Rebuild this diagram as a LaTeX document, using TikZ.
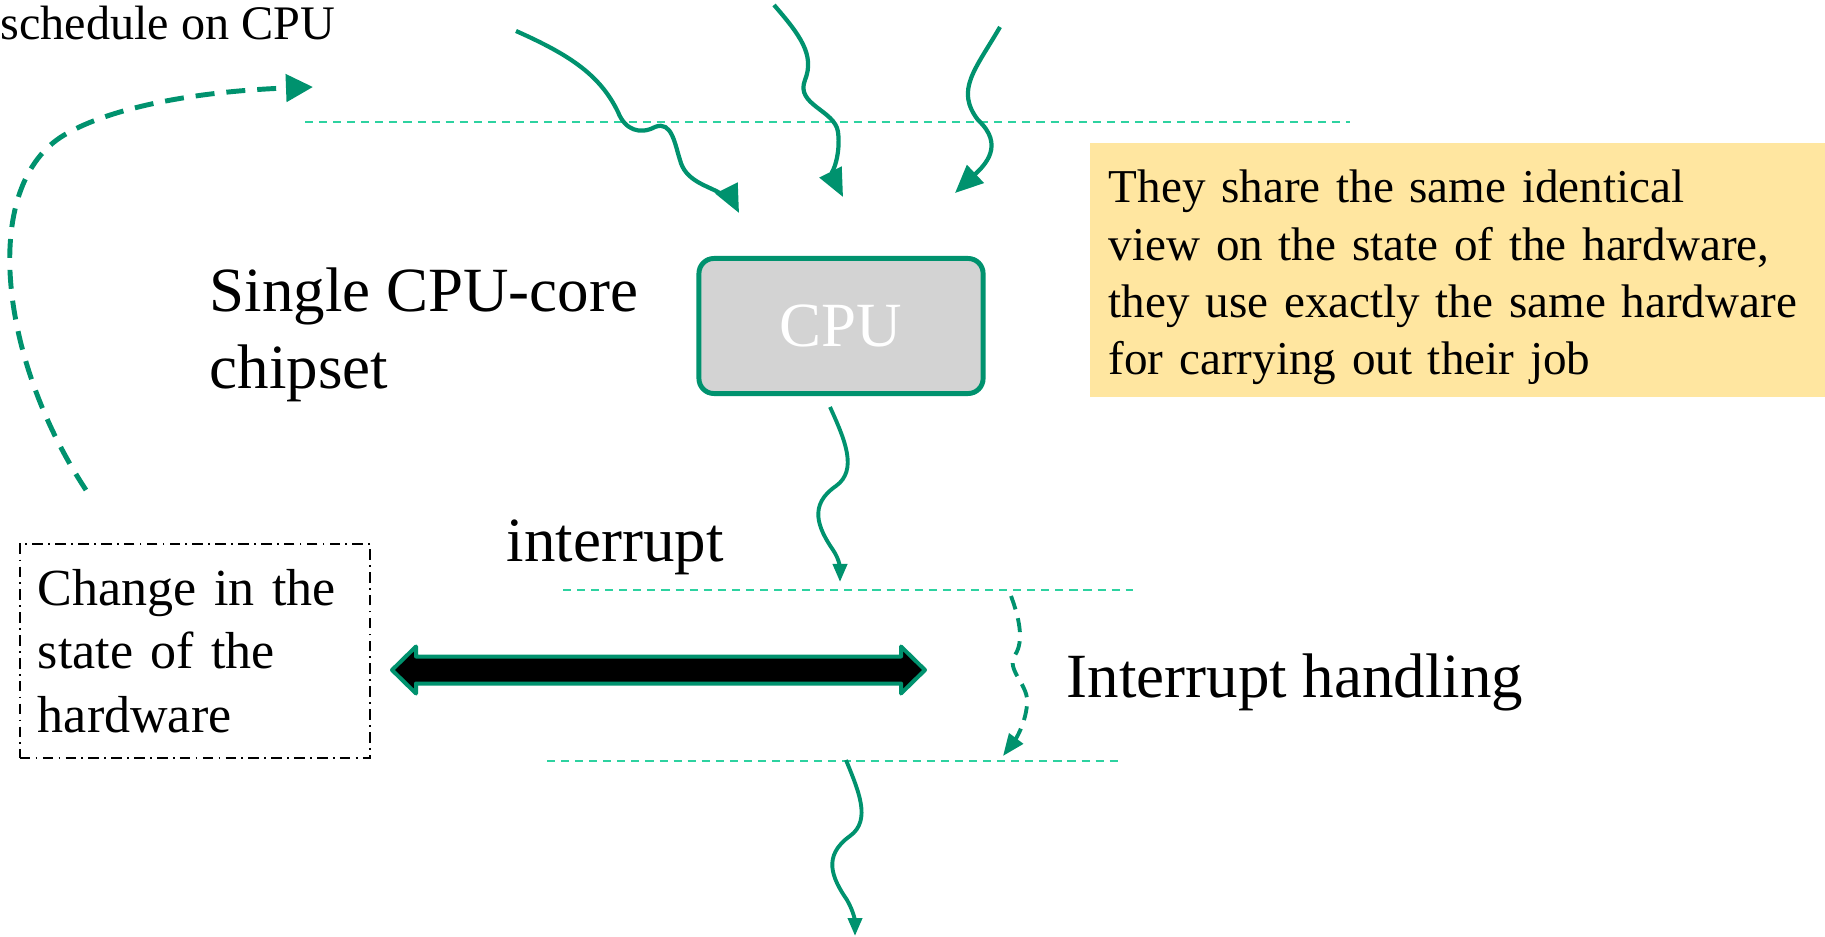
\documentclass[tikz,border=0pt]{standalone}
\usepackage{fontspec}
\setmainfont{Liberation Serif}
\usepackage{xcolor}
\usepackage{tikz}
\usetikzlibrary{arrows.meta}

\definecolor{cpugreen}{RGB}{0,146,110}
\definecolor{levelgreen}{RGB}{45,210,160}
\definecolor{noteyellow}{RGB}{255,230,160}
\definecolor{cpugray}{RGB}{211,211,211}

\begin{document}
\begin{tikzpicture}[
    x = .01cm,
    y = -.01cm,
    bigf/.style = {font=\fontsize{17.9}{21.9}\selectfont},
    smallf/.style = {font=\fontsize{13.7}{16.3}\selectfont},
    cpuf/.style = {
      rectangle,
      draw=cpugreen,
      rounded corners=1.5mm,
      fill=cpugray,
      text=white,
      line width=1.4pt,
      minimum width=2.84cm,
      minimum height=1.35cm,
      bigf
    },
    notef/.style = {
      rectangle,
      fill=noteyellow,
      minimum width=7.36cm,
      minimum height=2.53cm,
      text width=6.98cm,
      text height=13.8pt,
      inner xsep=.19cm,
      align=left,
      font=\fontsize{13.4}{16.3}\selectfont
    },
    hwf/.style = {
      rectangle,
      draw=black,
      line width=.4pt,
      dash pattern=on 3pt off 1.5pt on .5pt off 1.5pt,
      minimum width=3.5cm,
      minimum height=2.14cm,
      text width=3.14cm,
      inner xsep=.18cm,
      align=left,
      font=\fontsize{14.8}{18}\selectfont
    },
    labelf/.style = {inner sep=0, anchor=base west},
    levelf/.style = {
      draw=levelgreen,
      line width=.57pt,
      dash pattern=on 2.3pt off 1.7pt
    },
    wavyf/.style = {
      draw=cpugreen,
      line width=1.2pt,
      -{Triangle[length=.28cm, width=.24cm]}
    },
    wavysf/.style = {
      draw=cpugreen,
      line width=1.1pt,
      -{Triangle[length=.18cm, width=.14cm]}
    },
    handlef/.style = {
      draw=cpugreen,
      line width=1.1pt,
      dash pattern=on 4pt off 2.6pt,
      -{Triangle[length=.22cm, width=.17cm]}
    },
    schedf/.style = {
      draw=cpugreen,
      line width=1.4pt,
      dash pattern=on 5.4pt off 3.4pt,
      -{Triangle[length=.27cm, width=.27cm]}
    },
    fatf/.style = {
      draw=cpugreen,
      fill=black,
      line width=1.14pt,
      line join=round
    }
  ]
    \useasboundingbox (0,0) rectangle (1825,937);

    % texts and boxes
    \node[labelf, smallf] (sched) at (0,40) {schedule on CPU};
    \node[cpuf] (cpu) at (841,326) {CPU};
    \node[notef, anchor=north west] (note) at (1089,142)
      {They share the same identical\\
       view on the state of the hardware,\\
       they use exactly the same hardware\\
       for carrying out their job};
    \node[bigf, inner sep=0, anchor=north west, align=left] (chip) at (209,267)
      {Single CPU-core\\chipset};
    \node[labelf, bigf] (intr) at (506,561) {interrupt};
    \node[labelf, bigf] (handl) at (1066,697) {Interrupt handling};
    \node[hwf] (hw) at (195,651) {Change in the\\state of the\\hardware};

    % level lines
    \coordinate (l1a) at (305,122);
    \coordinate (l1b) at (1350,122);
    \coordinate (l2a) at (563,590);
    \coordinate (l2b) at (1133,590);
    \coordinate (l3a) at (547,761);
    \coordinate (l3b) at (1119,761);
    \draw[levelf] (l1a) -- (l1b);
    \draw[levelf] (l2a) -- (l2b);
    \draw[levelf] (l3a) -- (l3b);

    % end points of the flows
    \coordinate (sa) at (86,490);
    \coordinate (sb) at (313,87);
    \coordinate (t1s) at (516,31);
    \coordinate (t1e) at (739,213);
    \coordinate (t2s) at (774,5);
    \coordinate (t2e) at (843,197);
    \coordinate (t3s) at (1000,27);
    \coordinate (t3e) at (955,193);
    \coordinate (ds) at (830,407);
    \coordinate (de) at (840,582);
    \coordinate (hs) at (1011,596);
    \coordinate (he) at (1003,756);
    \coordinate (bs) at (846,760);
    \coordinate (be) at (855,936);

    \draw[schedf] (sa) .. controls (0,360) and (-20,190) .. (61,137)
      .. controls (100,112) and (180,92) .. (sb);

    \draw[wavyf] (t1s) .. controls (570,55) and (600,75) .. (618,112)
      .. controls (625,130) and (640,135) .. (655,127)
      .. controls (672,120) and (675,145) .. (680,160)
      .. controls (685,180) and (705,185) .. (718,192)
      .. controls (728,197) and (735,205) .. (t1e);
    \draw[wavyf] (t2s) .. controls (800,35) and (815,55) .. (805,80)
      .. controls (795,105) and (835,110) .. (838,132)
      .. controls (841,155) and (832,175) .. (t2e);
    \draw[wavyf] (t3s) .. controls (975,70) and (955,90) .. (978,120)
      .. controls (1005,145) and (985,165) .. (t3e);

    \draw[wavysf] (ds) .. controls (845,440) and (858,470) .. (836,486)
      .. controls (808,505) and (818,528) .. (833,550)
      .. controls (840,560) and (840,570) .. (de);
    \draw[handlef] (hs) .. controls (1018,615) and (1025,640) .. (1015,655)
      .. controls (1005,670) and (1030,685) .. (1027,705)
      .. controls (1025,725) and (1015,740) .. (he);
    \draw[wavysf] (bs) .. controls (858,790) and (872,820) .. (850,836)
      .. controls (822,856) and (832,878) .. (847,900)
      .. controls (854,912) and (855,922) .. (be);

    % fat double arrow
    \draw[fatf] (392,670) -- (416,646.5) -- (416,656.5) -- (901,656.5)
      -- (901,646.5) -- (925,670) -- (901,693.5) -- (901,683.5)
      -- (416,683.5) -- (416,693.5) -- cycle;

  \end{tikzpicture}
\end{document}
